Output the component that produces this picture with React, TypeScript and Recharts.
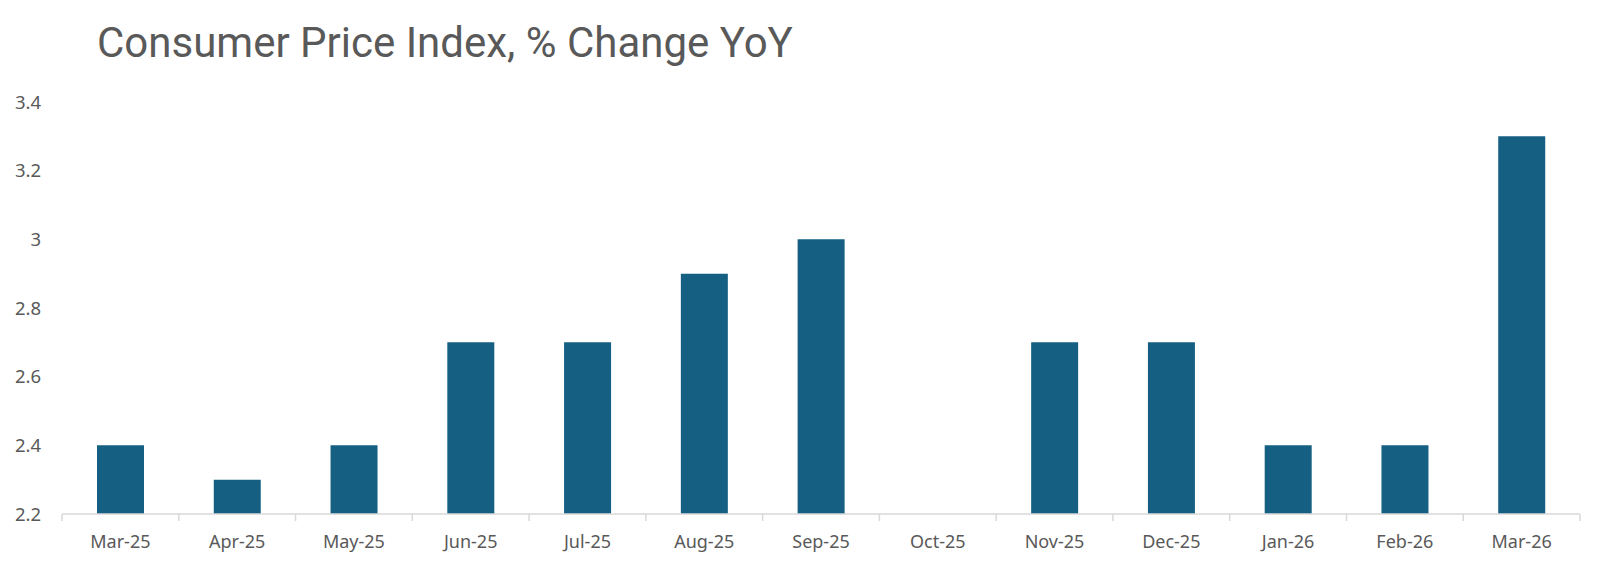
import React from "react";
import { BarChart, Bar, XAxis, YAxis } from "recharts";

const months = [
  "Mar-25",
  "Apr-25",
  "May-25",
  "Jun-25",
  "Jul-25",
  "Aug-25",
  "Sep-25",
  "Oct-25",
  "Nov-25",
  "Dec-25",
  "Jan-26",
  "Feb-26",
  "Mar-26",
];

// Oct-25 has no reading
const cpiYoY: (number | null)[] = [2.4, 2.3, 2.4, 2.7, 2.7, 2.9, 3.0, null, 2.7, 2.7, 2.4, 2.4, 3.3];

const yTicks = [2.2, 2.4, 2.6, 2.8, 3, 3.2, 3.4];

const data = months.map((m, i) => ({ month: m, cpi: cpiYoY[i] }));

const LABEL_FONT = "'Noto Sans', sans-serif";
const GREY = "#595959";
const AXIS_GREY = "#d9d9d9";

function MonthTick(props: any) {
  const { x, y, payload, index } = props;
  const half = payload?.offset ?? 58.4;
  const last = index === months.length - 1;
  return (
    <g>
      <line x1={x - half} x2={x - half} y1={y} y2={y + 7} stroke={AXIS_GREY} strokeWidth={1.5} />
      {last && (
        <line x1={x + half} x2={x + half} y1={y} y2={y + 7} stroke={AXIS_GREY} strokeWidth={1.5} />
      )}
      <text
        x={x}
        y={y + 34}
        textAnchor="middle"
        fill={GREY}
        fontSize={18}
        fontFamily={LABEL_FONT}
      >
        {payload.value}
      </text>
    </g>
  );
}

export default function App() {
  return (
    <div
      style={{
        position: "absolute",
        left: 0,
        top: 0,
        width: 1600,
        height: 569,
        background: "#fff",
      }}
    >
      <div
        style={{
          position: "absolute",
          left: 97,
          top: 18,
          fontFamily: "Roboto, sans-serif",
          fontSize: 42,
          color: GREY,
          whiteSpace: "nowrap",
          lineHeight: 1.2,
        }}
      >
        Consumer Price Index, % Change YoY
      </div>
      <BarChart
        width={1600}
        height={569}
        data={data}
        margin={{ top: 102, right: 20, left: 0, bottom: 20 }}
        barSize={47}
      >
        <XAxis
          dataKey="month"
          axisLine={{ stroke: AXIS_GREY, strokeWidth: 1.5 }}
          tickLine={false}
          tickSize={0}
          tickMargin={0}
          height={35}
          interval={0}
          tick={<MonthTick />}
        />
        <YAxis
          type="number"
          domain={[2.2, 3.4]}
          ticks={yTicks}
          width={62}
          axisLine={false}
          tickLine={false}
          tickSize={0}
          tickMargin={21}
          allowDataOverflow
          tickFormatter={(v: number) => String(Number(v.toFixed(1)))}
          tick={{ fill: GREY, fontSize: 18.5, fontFamily: LABEL_FONT }}
        />
        <Bar dataKey="cpi" fill="#156082" isAnimationActive={false} />
      </BarChart>
    </div>
  );
}
